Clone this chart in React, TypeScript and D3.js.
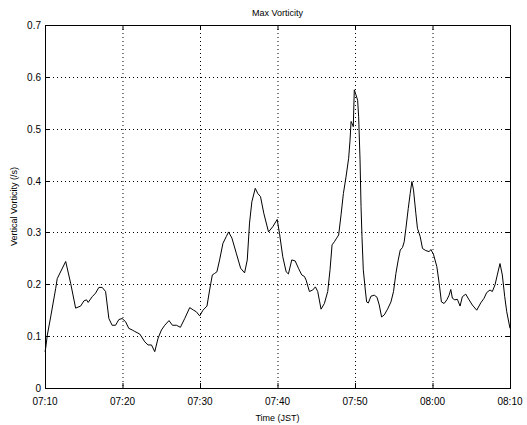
import React from "react";
import * as d3 from "d3";

const minutesAfter0710 = [
  0.0, 0.09, 0.3, 0.73, 1.38, 1.58, 2.67, 3.31, 3.95, 4.6, 5.02, 5.37, 5.57, 6.09, 6.53, 6.95, 7.38, 7.82,
  8.24, 8.66, 9.1, 9.53, 9.95, 10.39, 10.81, 11.24, 11.59, 12.23, 12.88, 13.3, 13.74, 14.16, 14.59,
  15.03, 15.45, 16.0, 16.44, 16.96, 17.47, 18.03, 18.67, 19.18, 19.53, 19.96, 20.38, 20.9, 21.24,
  21.59, 21.89, 22.18, 22.53, 22.96, 23.39, 23.69, 24.12, 24.68, 25.24, 25.75, 26.1, 26.39, 26.69,
  27.13, 27.46, 27.81, 28.23, 28.84, 29.39, 29.96, 30.26, 30.68, 31.12, 31.41, 31.84, 32.28, 32.7,
  33.13, 33.48, 33.69, 34.12, 34.55, 34.89, 35.19, 35.62, 36.05, 36.48, 36.78, 37.04, 37.34, 37.63,
  37.89, 38.2, 38.5, 38.84, 39.18, 39.36, 39.49, 39.62, 39.78, 39.91, 40.13, 40.34, 40.47, 40.65,
  40.78, 40.9, 41.07, 41.33, 41.5, 41.72, 42.06, 42.49, 42.84, 43.13, 43.43, 43.78, 44.2, 44.64,
  44.97, 45.28, 45.58, 45.84, 46.13, 46.35, 46.57, 46.87, 47.12, 47.34, 47.55, 47.85, 48.06, 48.41,
  48.71, 49.14, 49.57, 49.79, 50.12, 50.56, 50.86, 51.15, 51.5, 51.85, 52.14, 52.36, 52.57, 52.88,
  53.21, 53.56, 53.85, 54.29, 54.72, 55.14, 55.71, 56.22, 56.65, 56.99, 57.42, 57.72, 58.07, 58.36,
  58.71, 59.01, 59.32, 59.58, 60.0,
];

const vorticity = [
  0.07, 0.077, 0.102, 0.137, 0.192, 0.211, 0.244, 0.202, 0.154, 0.158, 0.168, 0.17, 0.165, 0.176, 0.183, 0.194,
  0.194, 0.186, 0.134, 0.121, 0.121, 0.132, 0.134, 0.128, 0.115, 0.112, 0.109, 0.104, 0.089, 0.083,
  0.083, 0.07, 0.096, 0.112, 0.121, 0.13, 0.121, 0.121, 0.117, 0.134, 0.155, 0.15, 0.147, 0.139,
  0.15, 0.158, 0.189, 0.218, 0.221, 0.224, 0.247, 0.279, 0.292, 0.301, 0.289, 0.26, 0.231, 0.222,
  0.247, 0.318, 0.359, 0.385, 0.375, 0.369, 0.337, 0.301, 0.311, 0.325, 0.298, 0.253, 0.224, 0.22,
  0.247, 0.245, 0.231, 0.218, 0.215, 0.208, 0.186, 0.189, 0.195, 0.186, 0.152, 0.163, 0.186, 0.228,
  0.276, 0.282, 0.289, 0.295, 0.334, 0.375, 0.407, 0.443, 0.478, 0.514, 0.51, 0.504, 0.575, 0.565,
  0.555, 0.523, 0.44, 0.35, 0.292, 0.228, 0.189, 0.166, 0.164, 0.177, 0.179, 0.175, 0.16, 0.137,
  0.141, 0.152, 0.166, 0.186, 0.221, 0.247, 0.266, 0.271, 0.282, 0.308, 0.346, 0.375, 0.398, 0.382,
  0.337, 0.308, 0.292, 0.269, 0.265, 0.263, 0.267, 0.258, 0.234, 0.202, 0.166, 0.163, 0.17, 0.179,
  0.19, 0.173, 0.17, 0.171, 0.158, 0.176, 0.181, 0.17, 0.16, 0.15, 0.164, 0.173, 0.184, 0.189,
  0.186, 0.199, 0.218, 0.24, 0.218, 0.176, 0.147, 0.115,
];

const xTickMinutes = [0, 10, 20, 30, 40, 50, 60];
const xTickLabels = ["07:10", "07:20", "07:30", "07:40", "07:50", "08:00", "08:10"];
const yTicks = [0, 0.1, 0.2, 0.3, 0.4, 0.5, 0.6, 0.7];

const title = "Max Vorticity";
const xLabel = "Time (JST)";
const yLabel = "Vertical Vorticity (/s)";

export default function App() {
  const W = 527;
  const H = 425;
  const left = 45;
  const right = 510;
  const top = 25;
  const bottom = 388;
  const font = "'Liberation Sans', Arial, Helvetica, sans-serif";

  const x = d3.scaleLinear().domain([0, 60]).range([left, right]);
  const y = d3.scaleLinear().domain([0, 0.7]).range([bottom, top]);

  const pts: [number, number][] = minutesAfter0710.map((m, i) => [m, vorticity[i]]);
  const line = d3
    .line<[number, number]>()
    .x((d) => x(d[0]))
    .y((d) => y(d[1]));

  const tickLen = 5;

  return (
    <svg
      width={W}
      height={H}
      style={{ position: "fixed", left: 0, top: 0, background: "#fff" }}
      fontFamily={font}
    >
      <rect x={0} y={0} width={W} height={H} fill="#fff" />
      {/* grid */}
      {xTickMinutes.slice(1, -1).map((m) => (
        <line
          key={"gx" + m}
          x1={x(m) + 0.5}
          x2={x(m) + 0.5}
          y1={top}
          y2={bottom}
          stroke="#000"
          strokeWidth={1}
          strokeDasharray="1,3"
        />
      ))}
      {yTicks.slice(1, -1).map((v) => (
        <line
          key={"gy" + v}
          x1={left}
          x2={right}
          y1={Math.round(y(v)) + 0.5}
          y2={Math.round(y(v)) + 0.5}
          stroke="#000"
          strokeWidth={1}
          strokeDasharray="1,3"
        />
      ))}
      {/* ticks */}
      {xTickMinutes.map((m) => (
        <g key={"tx" + m}>
          <line x1={x(m) + 0.5} x2={x(m) + 0.5} y1={bottom} y2={bottom - tickLen} stroke="#000" />
          <line x1={x(m) + 0.5} x2={x(m) + 0.5} y1={top} y2={top + tickLen} stroke="#000" />
        </g>
      ))}
      {yTicks.map((v) => (
        <g key={"ty" + v}>
          <line x1={left} x2={left + tickLen} y1={Math.round(y(v)) + 0.5} y2={Math.round(y(v)) + 0.5} stroke="#000" />
          <line x1={right} x2={right - tickLen} y1={Math.round(y(v)) + 0.5} y2={Math.round(y(v)) + 0.5} stroke="#000" />
        </g>
      ))}
      {/* data */}
      <path d={line(pts) || ""} fill="none" stroke="#000" strokeWidth={1} strokeLinejoin="round" />
      {/* frame */}
      <rect x={left + 0.5} y={top + 0.5} width={right - left} height={bottom - top} fill="none" stroke="#000" strokeWidth={1} />
      {/* tick labels */}
      {xTickMinutes.map((m, i) => (
        <text key={"lx" + m} x={x(m)} y={bottom + 17} textAnchor="middle" fontSize={10} fill="#000">
          {xTickLabels[i]}
        </text>
      ))}
      {yTicks.map((v) => (
        <text key={"ly" + v} x={left - 4} y={y(v) + 4} textAnchor="end" fontSize={10} fill="#000">
          {v === 0 ? "0" : v.toFixed(1)}
        </text>
      ))}
      <text x={(left + right) / 2} y={16} textAnchor="middle" fontSize={9} fill="#000">
        {title}
      </text>
      <text x={(left + right) / 2} y={421} textAnchor="middle" fontSize={9} fill="#000">
        {xLabel}
      </text>
      <text
        transform={`translate(17,${(top + bottom) / 2}) rotate(-90)`}
        textAnchor="middle"
        fontSize={9}
        fill="#000"
      >
        {yLabel}
      </text>
    </svg>
  );
}
